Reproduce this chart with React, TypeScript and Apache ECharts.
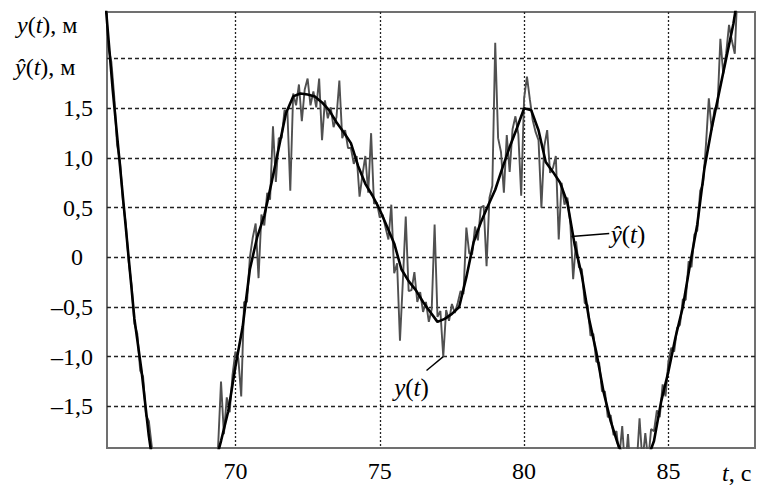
import { useEffect, useRef } from 'react';
import * as echarts from 'echarts';

// measured signal y(t), sampled every 0.1 s from 65.5 s
const T0_MEASURED = 65.5;
const DT_MEASURED = 0.1;
const Y_MEASURED = [
  2.6, 2.11, 1.97, 1.62, 1.13, 0.97, 0.57, 0.34, -0.04, -0.28,
  -0.67, -0.77, -1.14, -1.2, -1.59, -1.65, -1.9, -2.2, -2.4, -2.5,
  -2.7, -2.7, -2.9, -2.8, -3.0, -2.9, -3.0, -2.9, -3.0, -2.85,
  -2.9, -2.7, -2.75, -2.55, -2.55, -2.35, -2.35, -2.1, -2.15, -1.9,
  -1.25, -1.78, -1.41, -1.56, -1.18, -0.95, -1.02, -1.4, -0.45, -0.45,
  0.0, 0.2, 0.34, -0.21, 0.43, 0.32, 0.65, 0.58, 1.32, 0.76,
  1.2, 1.2, 1.48, 1.47, 0.67, 1.65, 1.53, 1.74, 1.37, 1.69,
  1.8, 1.53, 1.67, 1.51, 1.8, 1.18, 1.58, 1.4, 1.51, 1.31,
  1.41, 1.78, 1.2, 1.28, 1.1, 1.1, 0.94, 1.02, 0.61, 0.83,
  1.02, 0.65, 1.25, 0.54, 0.55, 0.4, 0.43, 0.3, 0.18, 0.53,
  -0.16, -0.06, -0.84, -0.24, 0.41, -0.34, -0.33, -0.15, -0.45, -0.35,
  -0.55, -0.45, -0.65, -0.52, 0.33, -0.6, -0.54, -1.0, -0.53, -0.64,
  -0.47, -0.56, -0.46, -0.34, -0.37, 0.3, 0.04, 0.03, 0.31, 0.17,
  0.5, 0.52, -0.09, 0.6, 0.72, 2.16, 1.2, 1.06, 0.65, 1.23,
  0.86, 1.29, 1.42, 1.24, 0.62, 1.6, 1.82, 1.59, 1.38, 1.26,
  1.18, 0.5, 1.12, 1.28, 0.85, 0.9, 1.02, 0.18, 0.75, 0.53,
  0.6, 0.35, -0.22, 0.16, -0.1, -0.12, -0.46, -0.48, -0.79, -0.77,
  -1.05, -1.06, -1.35, -1.35, -1.61, -1.59, -1.79, -1.75, -2.01, -1.7,
  -2.15, -1.78, -2.23, -2.2, -2.1, -1.62, -2.06, -1.77, -2.05, -1.73,
  -1.75, -1.54, -1.61, -1.28, -1.4, -1.05, -0.91, -0.95, -0.71, -0.68,
  -0.42, -0.43, -0.04, -0.1, 0.23, 0.27, 0.67, 0.74, 1.13, 1.6,
  1.28, 1.5, 1.5, 2.2, 1.85, 2.05, 2.34, 2.18, 2.05, 2.75,
  2.9, 3.1, 3.2, 3.4, 3.45, 3.55,
];

// estimate ŷ(t), sampled every 0.25 s from 65.5 s
const T0_ESTIMATE = 65.5;
const DT_ESTIMATE = 0.25;
const Y_ESTIMATE = [
  2.55, 1.68, 0.92, 0.15, -0.62, -1.15, -1.8, -2.3, -2.65, -2.85,
  -2.95, -2.95, -2.85, -2.65, -2.4, -2.12, -1.85, -1.55,
  -1.1, -0.7, -0.12, 0.2, 0.42, 0.75, 1.1, 1.45, 1.62, 1.65,
  1.64, 1.62, 1.56, 1.48, 1.36, 1.26, 1.15, 0.92, 0.74, 0.62,
  0.48, 0.31, 0.14, -0.12, -0.24, -0.33, -0.45, -0.55, -0.65, -0.62,
  -0.57, -0.5, -0.2, 0.15, 0.35, 0.52, 0.68, 0.9, 1.11, 1.3,
  1.5, 1.48, 1.28, 0.96, 0.86, 0.75, 0.55, 0.13, -0.18, -0.62,
  -0.95, -1.35, -1.65, -1.88, -2.05, -2.15, -2.15, -2.05, -1.85, -1.45,
  -1.15, -0.8, -0.5, -0.07, 0.33, 0.9, 1.3, 1.65, 2.0, 2.35,
  2.8, 3.2, 3.5,
];

const X_TICKS = [70, 75, 80, 85];
const X_TICK_LABELS = ['70', '75', '80', '85'];
const Y_TICKS = [-1.5, -1, -0.5, 0, 0.5, 1, 1.5, 2];
const Y_TICK_LABELS = ['–1,5', '–1,0', '–0,5', '{z|0}', '0,5', '1,0', '1,5', ''];

const FONT = 'Liberation Serif';

function lookup(ticks: number[], labels: string[], v: number) {
  const i = ticks.findIndex((t) => Math.abs(t - v) < 1e-6);
  return i >= 0 ? labels[i] : '';
}

export default function App() {
  const ref = useRef<HTMLDivElement>(null);
  useEffect(() => {
    if (!ref.current) return;
    const chart = echarts.init(ref.current, undefined, { renderer: 'svg' });
    const measured = Y_MEASURED.map((v, i) => [+(T0_MEASURED + i * DT_MEASURED).toFixed(3), v]);
    const estimate = Y_ESTIMATE.map((v, i) => [+(T0_ESTIMATE + i * DT_ESTIMATE).toFixed(3), v]);
    const richText = (size: number) => ({
      i: { fontStyle: 'italic', fontFamily: FONT, fontSize: size, fill: '#000' },
      n: { fontFamily: FONT, fontSize: size, fill: '#000' },
    });
    const richLabel = (size: number) => ({
      i: { fontStyle: 'italic', fontFamily: FONT, fontSize: size, color: '#000' },
      n: { fontFamily: FONT, fontSize: size, color: '#000' },
    });
    chart.setOption({
      animation: false,
      backgroundColor: '#fff',
      textStyle: { fontFamily: FONT },
      grid: {
        show: true,
        left: 107,
        right: 2,
        top: 12,
        bottom: 39,
        borderColor: '#707070',
        borderWidth: 2,
      },
      xAxis: {
        type: 'value',
        min: 65.55,
        max: 88,
        axisLine: { show: false },
        axisTick: { show: false, customValues: X_TICKS },
        axisLabel: {
          customValues: X_TICKS,
          formatter: (v: number) => lookup(X_TICKS, X_TICK_LABELS, v),
          fontFamily: FONT,
          fontSize: 24,
          color: '#000',
          margin: 11,
        },
        splitLine: { show: true, lineStyle: { type: [2, 2], color: '#222', width: 1.3 } },
      },
      yAxis: {
        type: 'value',
        min: -1.92,
        max: 2.47,
        axisLine: { show: false },
        axisTick: { show: false, customValues: Y_TICKS },
        axisLabel: {
          customValues: Y_TICKS.slice(0, 7),
          formatter: (v: number) => lookup(Y_TICKS, Y_TICK_LABELS, v),
          fontFamily: FONT,
          fontSize: 24,
          color: '#000',
          margin: 14,
          rich: { z: { fontFamily: FONT, fontSize: 24, color: '#000', padding: [0, 10, 0, 0] } },
        },
        splitLine: { show: true, lineStyle: { type: [4, 3], color: '#222', width: 1.3 } },
      },
      graphic: [
        {
          type: 'text',
          x: 17,
          y: 25,
          style: {
            text: '{i|y}{n|(}{i|t}{n|), м}',
            rich: richText(24),
            verticalAlign: 'middle',
            align: 'left',
          },
        },
        {
          type: 'text',
          x: 15,
          y: 67,
          style: {
            text: '{i|ŷ}{n|(}{i|t}{n|), м}',
            rich: richText(24),
            verticalAlign: 'middle',
            align: 'left',
          },
        },
        {
          type: 'text',
          x: 722,
          y: 473,
          style: {
            text: '{i|t}{n|, с}',
            rich: richText(24),
            verticalAlign: 'middle',
            align: 'left',
          },
        },
      ],
      series: [
        {
          type: 'line',
          name: 'y',
          data: measured,
          symbol: 'none',
          showSymbol: false,
          clip: true,
          lineStyle: { color: '#505050', width: 1.9 },
          z: 2,
        },
        {
          type: 'line',
          name: 'yhat',
          data: estimate,
          symbol: 'none',
          showSymbol: false,
          clip: true,
          lineStyle: { color: '#000', width: 2.6 },
          z: 3,
          markLine: {
            silent: true,
            symbol: ['none', 'none'],
            label: { show: false },
            lineStyle: { color: '#000', width: 1.4, type: 'solid' },
            data: [
              [{ coord: [76.62, -1.14] }, { coord: [77.2, -1.0] }],
              [{ coord: [81.64, 0.21] }, { coord: [82.95, 0.24] }],
            ],
          },
          markPoint: {
            silent: true,
            symbol: 'circle',
            symbolSize: 1,
            itemStyle: { color: 'rgba(0,0,0,0)' },
            label: {
              show: true,
              position: 'inside',
              color: '#000',
              rich: richLabel(25),
            },
            data: [
              { coord: [76.1, -1.31], label: { formatter: '{i|y}{n|(}{i|t}{n|)}' } },
              { coord: [83.6, 0.23], label: { formatter: '{i|ŷ}{n|(}{i|t}{n|)}' } },
            ],
          },
        },
      ],
    });
    return () => chart.dispose();
  }, []);
  return (
    <div
      ref={ref}
      style={{ position: 'fixed', left: 0, top: 0, width: 757, height: 487, background: '#fff' }}
    />
  );
}
